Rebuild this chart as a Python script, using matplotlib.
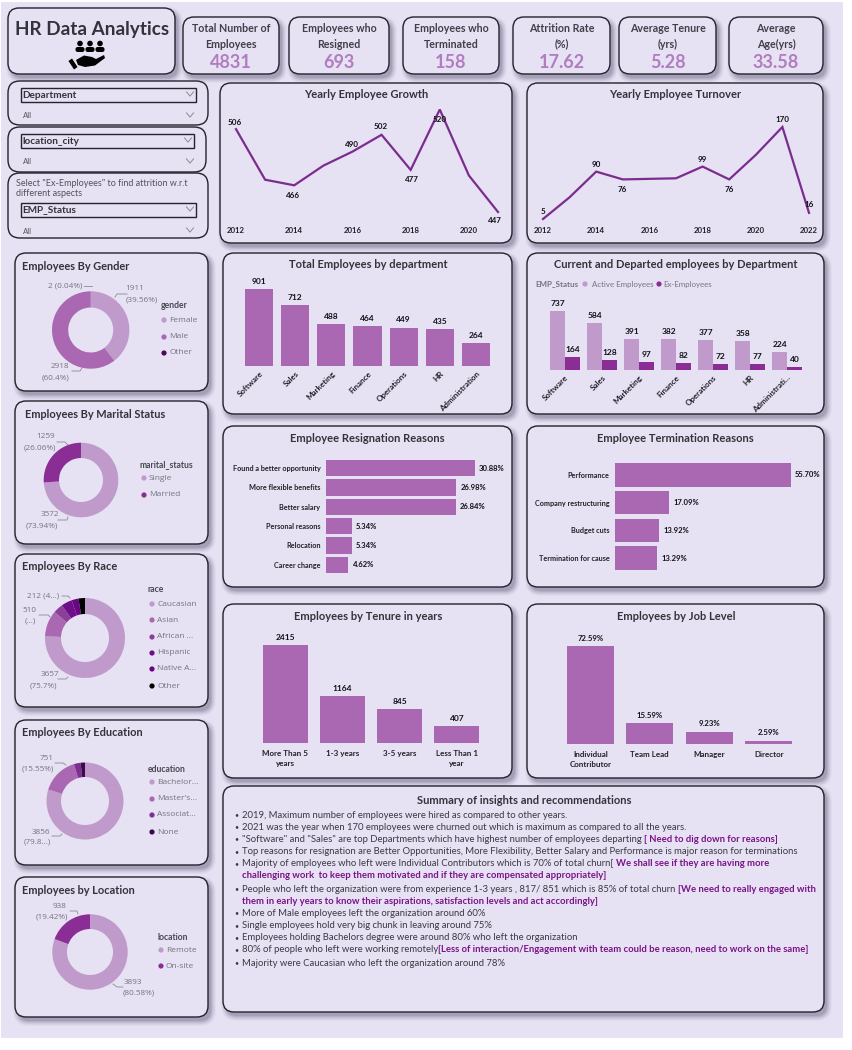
import matplotlib
matplotlib.use('Agg')
import matplotlib.pyplot as plt
from matplotlib.patches import FancyBboxPatch, Rectangle, Circle, Polygon

# Chart values
growth_years = [2012, 2013, 2014, 2015, 2016, 2017, 2018, 2019, 2020, 2021]
growth_values = [506, 470, 466, 480, 490, 502, 477, 520, 473, 447]
turnover_years = [2012, 2013, 2014, 2015, 2016, 2017, 2018, 2019, 2020, 2021, 2022]
turnover_values = [5, 44, 90, 76, 77, 78, 99, 76, 120, 170, 16]

departments = ['Software', 'Sales', 'Marketing', 'Finance', 'Operations', 'HR', 'Administration']
departments_short = ['Software', 'Sales', 'Marketing', 'Finance', 'Operations', 'HR', 'Administrati...']
dept_total = [901, 712, 488, 464, 449, 435, 264]
dept_active = [737, 584, 391, 382, 377, 358, 224]
dept_ex = [164, 128, 97, 82, 72, 77, 40]

resign_reasons = ['Found a better opportunity', 'More flexible benefits', 'Better salary',
                  'Personal reasons', 'Relocation', 'Career change']
resign_pct = [30.88, 26.98, 26.84, 5.34, 5.34, 4.62]
term_reasons = ['Performance', 'Company restructuring', 'Budget cuts', 'Termination for cause']
term_pct = [55.70, 17.09, 13.92, 13.29]

tenure_labels = ['More Than 5\nyears', '1-3 years', '3-5 years', 'Less Than 1\nyear']
tenure_values = [2415, 1164, 845, 407]
job_labels = ['Individual\nContributor', 'Team Lead', 'Manager', 'Director']
job_pct = [72.59, 15.59, 9.23, 2.59]

gender_names = ['Female', 'Male', 'Other']
gender_values = [1911, 2918, 2]
marital_names = ['Single', 'Married']
marital_values = [3572, 1259]
race_names = ['Caucasian', 'Asian', 'African ...', 'Hispanic', 'Native A...', 'Other']
race_values = [3657, 510, 190, 212, 135, 127]
education_names = ['Bachelor...', "Master's...", 'Associat...', 'None']
education_values = [3856, 751, 135, 89]
location_names = ['Remote', 'On-site']
location_values = [3893, 938]

kpi_titles = ['Total Number of\nEmployees', 'Employees who\nResigned', 'Employees who\nTerminated',
              'Attrition Rate\n(%)', 'Average Tenure\n(yrs)', 'Average\nAge(yrs)']
kpi_values = ['4831', '693', '158', '17.62', '5.28', '33.58']

plt.rcParams['font.family'] = ['Lato', 'DejaVu Sans']

PAGE = '#E6E1F3'
LIGHT = '#BF9ACB'
MID = '#A968B1'
DARK = '#8A2E96'
LINE = '#7B2D8E'
INK = '#3A3A42'
GREY = '#77747F'
PURPLE = '#7A1488'
TITLE_SIZE = 8.0

fig = plt.figure(figsize=(8.52, 10.5), dpi=100, facecolor='white')
W, H = 852, 1050

# whole-figure axes in pixel units, used for the cards and free text
page = fig.add_axes([0, 0, 1, 1], zorder=0)
page.set_xlim(0, W)
page.set_ylim(H, 0)
page.axis('off')
page.add_patch(Rectangle((1, 2), 842, 1036, facecolor=PAGE, edgecolor='none'))


def card(x0, y0, x1, y1, r=11, shadow=True):
    if shadow:
        for grow, alpha in [(5, 0.035), (4, 0.05), (3, 0.06), (2, 0.08), (1, 0.1), (0, 0.12)]:
            page.add_patch(FancyBboxPatch((x0 + 3 - grow, y0 + 4 - grow), x1 - x0 + 2 * grow, y1 - y0 + 2 * grow,
                                          boxstyle=f'round,pad=0,rounding_size={r + grow}',
                                          facecolor='#3E3A5A', edgecolor='none', alpha=alpha))
    page.add_patch(FancyBboxPatch((x0, y0), x1 - x0, y1 - y0, boxstyle=f'round,pad=0,rounding_size={r}',
                                  facecolor=PAGE, edgecolor='#24222C', linewidth=1.0))


def sub_axes(x0, y0, x1, y1):
    # axes placed by pixel box, y counted from the top of the picture
    ax = fig.add_axes([x0 / W, 1 - y1 / H, (x1 - x0) / W, (y1 - y0) / H], zorder=2)
    ax.patch.set_visible(False)
    for s in ax.spines.values():
        s.set_visible(False)
    ax.tick_params(length=0)
    ax.set_yticks([])
    return ax


def put(x, y, s, size=6, color=INK, weight='normal', ha='center', family=None):
    return page.text(x, y, s, fontsize=size, color=color, weight=weight, ha=ha, va='center',
                     family=family if family else ['Lato', 'DejaVu Sans'])


# title card
card(8, 8, 175, 74)
put(92, 29, 'HR Data Analytics', size=13.6, weight='bold', color='#33333B')
for cx in (80, 90, 100):
    page.add_patch(Circle((cx, 43.5), 2.8, facecolor='black', edgecolor='none'))
    page.add_patch(FancyBboxPatch((cx - 4.5, 47), 9, 5, boxstyle='round,pad=0,rounding_size=2.2',
                                  facecolor='black', edgecolor='none'))
page.add_patch(Polygon([(76, 60), (84, 55.5), (92, 57), (96, 59), (104, 55), (105, 58), (95, 65.5), (85, 67), (78, 65)],
                       facecolor='black', edgecolor='none'))
page.add_patch(Polygon([(68.5, 61), (72, 58.5), (77.5, 67), (74, 69.5)], facecolor='black', edgecolor='none'))

# KPI cards
kpi_boxes = [(183, 279), (289, 389), (403, 499), (513, 610), (619, 716), (729, 823)]
for (x0, x1), label, value in zip(kpi_boxes, kpi_titles, kpi_values):
    card(x0, 17, x1, 74)
    top, bottom = label.split('\n')
    cx = (x0 + x1) / 2
    put(cx, 29, top, size=7.7, weight='bold', color='#404048')
    put(cx, 44, bottom, size=7.7, weight='bold', color='#404048')
    put(cx, 62, value, size=13, weight='bold', color='#B07DBE')


# slicers
def chevron(x, y, size=3.5):
    page.plot([x - size, x, x + size], [y - size * 0.6, y + size * 0.6, y - size * 0.6],
              color='#8C8A94', lw=0.7)


def slicer(x0, y0, x1, y1, name, box_y, box_x1):
    card(x0, y0, x1, y1, r=12, shadow=False)
    page.add_patch(Rectangle((21, box_y), box_x1 - 21, 14, facecolor=PAGE, edgecolor='#26242E', linewidth=1.0))
    put(22.5, box_y + 7, name, size=7.2, weight='bold', ha='left', color='#33333B')
    chevron(box_x1 - 6, box_y + 6)
    put(23, box_y + 28, 'All', size=5.6, ha='left', color='#55535C')
    chevron(190, box_y + 27)


slicer(8, 81, 208, 125, 'Department', 88, 196)
slicer(8, 127, 206, 172, 'location_city', 134, 194)
slicer(8, 173, 208, 238, 'EMP_Status', 203, 196)
put(16, 183, 'Select "Ex-Employees" to find attrition w.r.t', size=6.5, ha='left', color='#55535C')
put(16, 193, 'different aspects', size=6.5, ha='left', color='#55535C')


def line_panel(box, title, tx, years, values, rect, offsets, ticks):
    card(*box)
    put(tx, 94, title, size=TITLE_SIZE, weight='bold', color='#33333B')
    ax = sub_axes(*rect)
    ax.plot(years, values, color=LINE, lw=1.6, clip_on=False, solid_joinstyle='miter')
    ax.set_xlim(years[0], years[-1])
    ax.set_ylim(min(values), max(values))
    ax.set_xticks(ticks)
    ax.set_xticklabels(ticks, fontsize=5.6, weight='bold', color='#222228')
    ax.tick_params(axis='x', pad=(231 - rect[3] - 4) * 0.72)
    for year, (dx, dy) in offsets.items():
        ax.annotate(str(values[years.index(year)]), (year, values[years.index(year)]), xytext=(dx * 0.72, dy * 0.72),
                    textcoords='offset points', ha='center', va='center', fontsize=5.8, weight='bold', color='#111116')


line_panel((220, 83, 512, 243), 'Yearly Employee Growth', 366, growth_years, growth_values, (236, 109.5, 498, 212),
           {2012: (-1, 7), 2014: (-1, -10), 2016: (-1, 7), 2017: (-1, 8), 2018: (1, -10), 2019: (0, -10), 2021: (-3, -8)},
           [2012, 2014, 2016, 2018, 2020])
line_panel((527, 83, 823, 243), 'Yearly Employee Turnover', 675, turnover_years, turnover_values, (543, 127, 809, 219),
           {2012: (0, 8), 2014: (0, 7), 2015: (0, -10), 2018: (0, 7), 2019: (0, -10), 2021: (0, 8), 2022: (0, 8)},
           [2012, 2014, 2016, 2018, 2020, 2022])


# total employees by department
card(223, 253, 512, 414)
put(368, 265, 'Total Employees by department', size=TITLE_SIZE, weight='bold', color='#33333B')
ax = sub_axes(241, 289, 494, 366)
bars = ax.bar(range(len(departments)), dept_total, width=0.78, color=MID)
ax.set_xlim(-0.5, 6.5)
ax.set_ylim(0, max(dept_total))
ax.bar_label(bars, padding=3, fontsize=6, weight='bold', color='#111116')
ax.set_xticks(range(len(departments)))
ax.set_xticklabels(departments, rotation=45, ha='right', rotation_mode='anchor', fontsize=5.8, weight='bold', color='#222228')
ax.tick_params(axis='x', pad=3)

# current and departed
card(527, 253, 824, 414)
put(676, 265, 'Current and Departed employees by Department', size=TITLE_SIZE, weight='bold', color='#33333B')
put(535, 284, 'EMP_Status', size=5.8, weight='bold', ha='left', color=GREY)
page.add_patch(Circle((585, 284), 2.6, facecolor=LIGHT, edgecolor='none'))
put(592, 284, 'Active Employees', size=5.7, ha='left', color=GREY)
page.add_patch(Circle((659, 284), 2.6, facecolor=DARK, edgecolor='none'))
put(663, 284, 'Ex-Employees', size=5.7, ha='left', color=GREY)
ax = sub_axes(546.5, 311, 805.5, 370)
xs = range(len(departments_short))
b1 = ax.bar([i - 0.2 for i in xs], dept_active, width=0.4, color=LIGHT)
b2 = ax.bar([i + 0.2 for i in xs], dept_ex, width=0.4, color=DARK)
ax.set_xlim(-0.5, 6.5)
ax.set_ylim(0, max(dept_active))
ax.bar_label(b1, padding=3, fontsize=6, weight='bold', color='#111116')
ax.bar_label(b2, padding=3, fontsize=6, weight='bold', color='#111116')
ax.set_xticks(list(xs))
ax.set_xticklabels(departments_short, rotation=45, ha='right', rotation_mode='anchor', fontsize=5.8, weight='bold', color='#222228')
ax.tick_params(axis='x', pad=3)


def hbar_panel(box, title, rect, names, pct, height):
    card(*box)
    put((box[0] + box[2]) / 2, 438, title, size=TITLE_SIZE, weight='bold', color='#33333B')
    ax = sub_axes(*rect)
    ypos = range(len(names))
    bars = ax.barh(ypos, pct, height=height, color=MID)
    ax.set_xlim(0, max(pct))
    ax.set_ylim(len(names) - 0.5, -0.5)
    ax.bar_label(bars, labels=[f'{p:.2f}%' for p in pct], padding=3, fontsize=5.5, weight='bold', color='#111116')
    ax.set_xticks([])
    ax.set_yticks(list(ypos))
    ax.set_yticklabels(names, fontsize=5.25, weight='bold', color='#222228')
    ax.tick_params(axis='y', pad=4)


hbar_panel((223, 426, 512, 587), 'Employee Resignation Reasons', (326, 458.5, 475, 574.5), resign_reasons, resign_pct, 0.86)
hbar_panel((527, 426, 824, 587), 'Employee Termination Reasons', (615, 461, 791, 572), term_reasons, term_pct, 0.84)

# tenure
card(223, 604, 512, 778)
put(368, 617, 'Employees by Tenure in years', size=TITLE_SIZE, weight='bold', color='#33333B')
ax = sub_axes(256.5, 645, 485.5, 743)
bars = ax.bar(range(4), tenure_values, width=0.79, color=MID)
ax.set_xlim(-0.5, 3.5)
ax.set_ylim(0, max(tenure_values))
ax.bar_label(bars, padding=3, fontsize=6, weight='bold', color='#111116')
ax.set_xticks(range(4))
ax.set_xticklabels(tenure_labels, fontsize=5.8, weight='bold', color='#222228', linespacing=1.5)
ax.tick_params(axis='x', pad=5)

# job level
card(527, 604, 824, 778)
put(676, 617, 'Employees by Job Level', size=TITLE_SIZE, weight='bold', color='#33333B')
ax = sub_axes(560.5, 646, 798.5, 744)
bars = ax.bar(range(4), job_pct, width=0.79, color=MID)
ax.set_xlim(-0.5, 3.5)
ax.set_ylim(0, max(job_pct))
ax.bar_label(bars, labels=[f'{p:.2f}%' for p in job_pct], padding=3, fontsize=5.6, weight='bold', color='#111116')
ax.set_xticks(range(4))
ax.set_xticklabels(job_labels, fontsize=5.8, weight='bold', color='#222228', linespacing=1.5)
ax.tick_params(axis='x', pad=5)


def donut(box, title, cx, cy, ro, ri, values, colors, title_x=22):
    card(*box)
    put(title_x, box[1] + 13, title, size=7.9, weight='bold', ha='left', color='#33333B')
    ax = sub_axes(cx - ro, cy - ro, cx + ro, cy + ro)
    ax.pie(values, colors=colors, startangle=90, counterclock=False, radius=1,
           wedgeprops={'width': (ro - ri) / ro, 'linewidth': 0})
    ax.set_xlim(-1, 1)
    ax.set_ylim(-1, 1)


def legend(title, tx, ty, mx, ys, names, colors):
    put(tx, ty, title, size=6.2, weight='bold', ha='left', color='#4A4852')
    for y, name, c in zip(ys, names, colors):
        page.add_patch(Circle((mx, y), 2.6, facecolor=c, edgecolor='none'))
        put(mx + 5, y, name, size=6.0, ha='left', color=GREY, family=['Open Sans', 'DejaVu Sans'])


def callout(texts, pts):
    for (x, y, s) in texts:
        put(x, y, s, size=5.9, color=GREY, family=['Open Sans', 'DejaVu Sans'])
    page.plot([p[0] for p in pts], [p[1] for p in pts], color='#8C8A94', lw=0.6)


gender_colors = [LIGHT, MID, '#4B0A5E']
donut((15, 253, 208, 391), 'Employees By Gender', 90.7, 330, 38.7, 22.5, gender_values, gender_colors)
legend('gender', 161, 306, 164, [320, 337, 353], gender_names, gender_colors)
callout([(65, 286, '2 (0.04%)')], [(84, 286), (92, 286)])
callout([(135, 289, '1911'), (142, 300, '(39.56%)')], [(115, 297), (117, 294), (127, 294)])
callout([(60, 367, '2918'), (55, 378, '(60.4%)')], [(72, 371), (80, 371), (82, 368)])

donut((15, 401, 208, 544), 'Employees By Marital Status', 81, 480, 37.3, 22, marital_values, [LIGHT, DARK], title_x=25)
legend('marital_status', 140, 465, 144, [478, 495], marital_names, [LIGHT, DARK])
callout([(46, 437, '1259'), (40, 448, '(26.06%)')], [(57, 442), (65, 442), (68, 445)])
callout([(50, 515, '3572'), (42, 526, '(73.94%)')], [(58, 520), (67, 520), (68, 517)])

race_colors = [LIGHT, MID, '#8C3F96', '#6E0E88', '#6A0480', '#000000']
donut((15, 554, 208, 707), 'Employees By Race', 85, 638, 40, 24, race_values, race_colors)
legend('race', 148, 590, 152, [604, 620, 637, 653, 669, 686], race_names, race_colors)
callout([(43, 596, '212 (4...)')], [(62, 596), (68, 596), (70, 598)])
callout([(29, 610, '510'), (30, 621, '(...)')], [(39, 615), (48, 615), (50, 617)])
callout([(50, 675, '3657'), (43, 686, '(75.7%)')], [(58, 679), (66, 679), (68, 677)])

education_colors = [LIGHT, MID, '#7F2F8F', '#3A0A4F']
donut((15, 720, 208, 865), 'Employees By Education', 85, 801, 38.5, 24, education_values, education_colors)
legend('education', 148, 769, 152, [782, 799, 815, 832], education_names, education_colors)
callout([(47, 758, '751'), (38, 769, '(15.55%)')], [(55, 763), (63, 763), (66, 765)])
callout([(41, 832, '3856'), (37, 842, '(79.8...)')], [(52, 836), (60, 836), (62, 834)])

donut((15, 877, 208, 1017), 'Employees by Location', 90, 952, 37.7, 23, location_values, [LIGHT, DARK])
legend('location', 157, 937, 161, [950, 966], location_names, [LIGHT, DARK])
callout([(60, 907, '938'), (52, 917, '(19.42%)')], [(70, 911), (77, 911), (78, 914)])
callout([(133, 982, '3893'), (139, 993, '(80.58%)')], [(113, 984), (117, 987), (123, 987)])

# summary panel
card(223, 786, 824, 1012)
put(524, 801, 'Summary of insights and recommendations', size=TITLE_SIZE, weight='bold', color='#33333B')
summary_lines = [
    (815, True, [('2019, Maximum number of employees were hired as compared to other years.', False)]),
    (827, True, [('2021 was the year when 170 employees were churned out which is maximum as compared to all the years.', False)]),
    (839, True, [('"Software" and "Sales" are top Departments which have highest number of employees departing ', False),
                 ('[ Need to dig down for reasons]', True)]),
    (852, True, [('Top reasons for resignation are Better Opportunities, More Flexibility, Better Salary and Performance is major reason for terminations', False)]),
    (864, True, [('Majority of employees who left were Individual Contributors which is 70% of total churn[ ', False),
                 ('We shall see if they are having more', True)]),
    (876, False, [('challenging work  to keep them motivated and if they are compensated appropriately]', True)]),
    (889, True, [('People who left the organization were from experience 1-3 years , 817/ 851 which is 85% of total churn ', False),
                 ('[We need to really engaged with', True)]),
    (901, False, [('them in early years to know their aspirations, satisfaction levels and act accordingly]', True)]),
    (913, True, [('More of Male employees left the organization around 60%', False)]),
    (926, True, [('Single employees hold very big chunk in leaving around 75%', False)]),
    (938, True, [('Employees holding Bachelors degree were around 80% who left the organization', False)]),
    (950, True, [('80% of people who left were working remotely', False),
                 ('[Less of interaction/Engagement with team could be reason, need to work on the same]', True)]),
    (963, True, [('Majority were Caucasian who left the organization around 78%', False)]),
]
SUMMARY_SIZE = 6.87
renderer = fig.canvas.get_renderer()
for y, bullet, runs in summary_lines:
    if bullet:
        put(236.5, y, '•', size=5, ha='center', color=INK)
    x = 242
    for text, bold in runs:
        # trailing spaces count in the measured width only with a visible end, so measure with a dot
        t = put(x, y, text, size=SUMMARY_SIZE, ha='left', weight='bold' if bold else 'normal', color=PURPLE if bold else INK)
        probe = put(0, y, text + '.', size=SUMMARY_SIZE, ha='left', weight='bold' if bold else 'normal')
        dot = put(0, y, '.', size=SUMMARY_SIZE, ha='left', weight='bold' if bold else 'normal')
        x += probe.get_window_extent(renderer).width - dot.get_window_extent(renderer).width
        probe.remove()
        dot.remove()

fig.savefig('out.png', dpi=100, facecolor='white')
